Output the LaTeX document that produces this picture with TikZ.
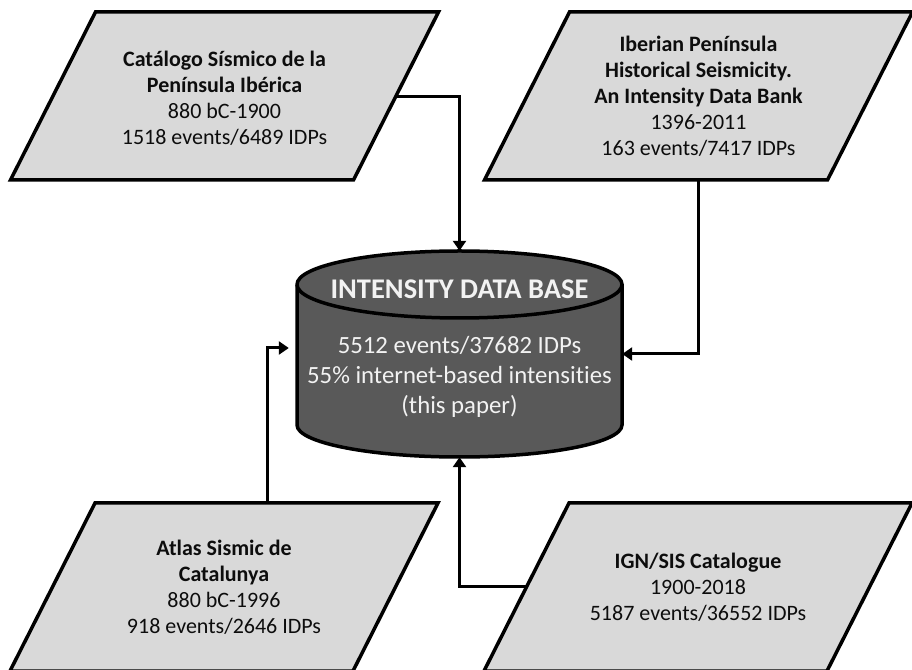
\documentclass[tikz,border=0pt]{standalone}
\usepackage{fontspec}
\setmainfont{Carlito}[Ligatures={NoCommon}]
\usetikzlibrary{arrows.meta,calc}
\definecolor{boxfill}{HTML}{D9D9D9}
\definecolor{dbfill}{HTML}{595959}
\definecolor{dbtext}{HTML}{F2F2F2}
\definecolor{ink}{HTML}{0D0D0D}
\begin{document}
\begin{tikzpicture}[x=1pt,y=1pt,
  srcshape/.style={fill=boxfill, draw=black, line width=3.5pt},
  srctext/.style={align=center, text=ink, font=\fontsize{22}{26}\selectfont, inner sep=0pt},
  link/.style={line width=3pt, -{Triangle[length=10pt,width=13pt]}},
  dbline/.style={draw=black, line width=3.5pt}]
\useasboundingbox (0,0) rectangle (912,669);

% source parallelograms
\foreach \x/\y in {224.5/573, 698.5/573, 224/82, 698/82}
  \filldraw[srcshape] (\x-214,\y-84) -- (\x+129,\y-84) -- (\x+214,\y+84) -- (\x-129,\y+84) -- cycle;

\node[srctext] (A) at (224.5,571) {\textbf{Catálogo Sísmico de la}\\\textbf{Península Ibérica}\\880 bC-1900\\1518 events/6489 IDPs};
\node[srctext] (B) at (698.5,573) {\textbf{Iberian Península}\\\textbf{Historical Seismicity.}\\\textbf{An Intensity Data Bank}\\1396-2011\\163 events/7417 IDPs};
\node[srctext] (C) at (224,82) {\textbf{Atlas Sismic de}\\\textbf{Catalunya}\\880 bC-1996\\918 events/2646 IDPs};
\node[srctext] (D) at (698,82) {\textbf{IGN/SIS Catalogue}\\1900-2018\\5187 events/36552 IDPs};

% connector ends on the parallelogram borders
\coordinate (Aout) at (224.5+171,572);
\coordinate (Bout) at (698.5,573-84);
\coordinate (Cout) at (224+43,82+84);
\coordinate (Dout) at (698-171,83);

% database cylinder
\node[minimum width=325pt, minimum height=206pt, inner sep=0pt] (db) at (459.5,315) {};
\path[fill=dbfill, dbline] (297,384.5) -- (297,244)
  arc[start angle=180, end angle=360, x radius=162.5, y radius=32]
  -- (622,384.5)
  arc[start angle=0, end angle=180, x radius=162.5, y radius=33.5] -- cycle;
\draw[dbline] (297,384.5) arc[start angle=180, end angle=360, x radius=162.5, y radius=33.5];
\node[text=dbtext, font=\fontsize{28.5}{34}\selectfont\bfseries] (dbtitle) at (459.5,380) {INTENSITY DATA BASE};
\node[text=dbtext, align=center, font=\fontsize{24.75}{30}\selectfont] (dbbody) at (459.5,292) {5512 events/37682 IDPs\\55\% internet-based intensities\\(this paper)};

% connectors
\draw[link] (Aout) -| (db.north);
\draw[link] (Bout) |- (db.east);
\draw[link, shorten >=8pt] (Cout) |- ([yshift=6pt]db.west);
\draw[link] (Dout) -| (db.south);
\end{tikzpicture}
\end{document}
